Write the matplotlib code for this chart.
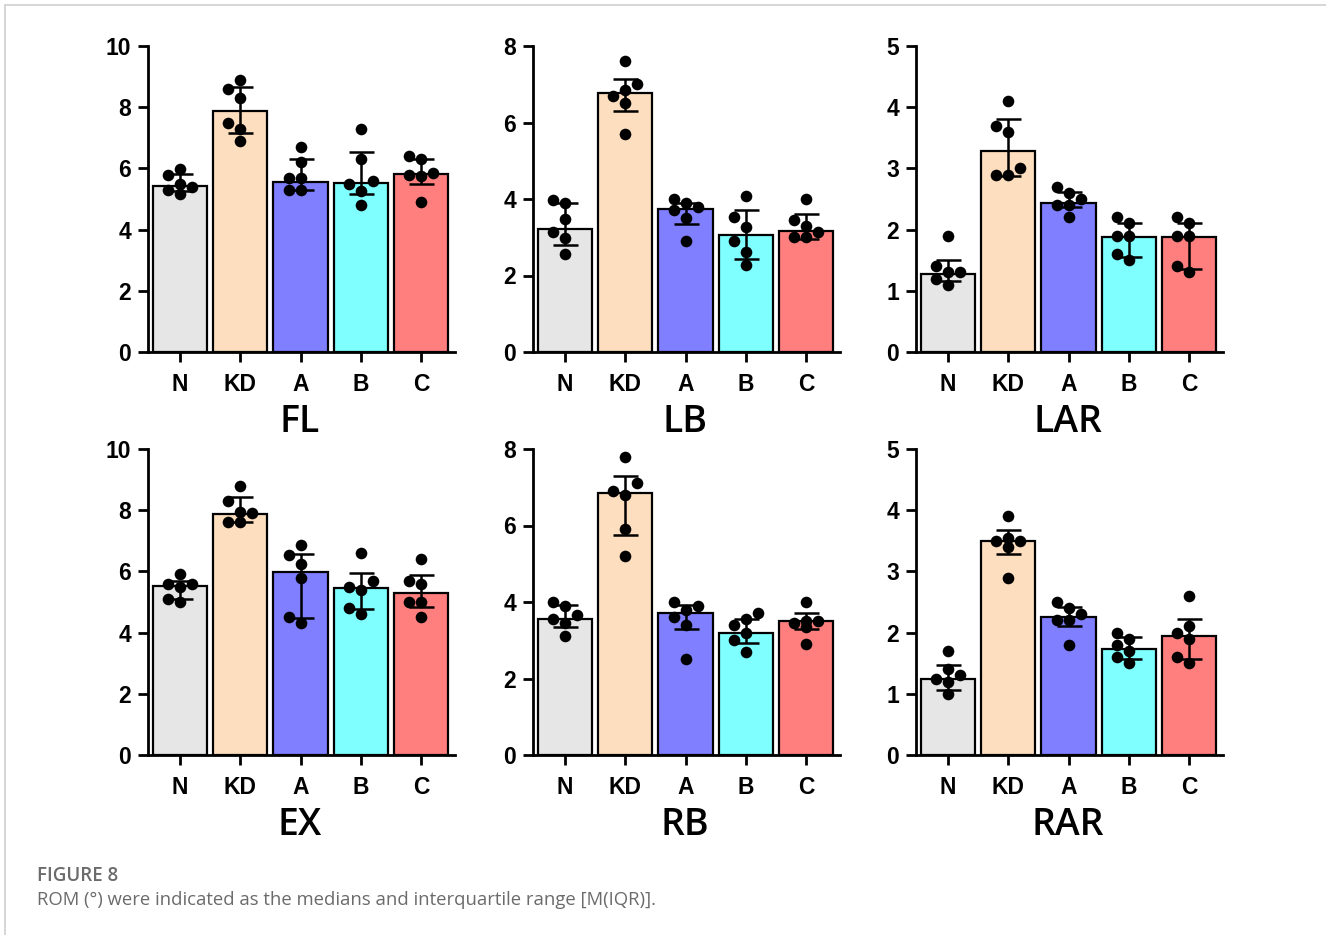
import numpy as np
import matplotlib
matplotlib.use("Agg")
import matplotlib.pyplot as plt
from matplotlib.patches import Rectangle

# Groups and colours
GROUPS = ["N", "KD", "A", "B", "C"]
COLORS = ["#e6e6e6", "#fddfbf", "#7f7fff", "#7fffff", "#ff7f7f"]

# panel name -> y max
PANELS = ["FL", "LB", "LAR", "EX", "RB", "RAR"]
YMAX = {"FL": 10, "LB": 8, "LAR": 5, "EX": 10, "RB": 8, "RAR": 5}

# medians (bar heights)
fl_med = [5.42, 7.87, 5.56, 5.52, 5.81]
lb_med = [3.21, 6.77, 3.75, 3.06, 3.17]
lar_med = [1.28, 3.28, 2.43, 1.88, 1.88]
ex_med = [5.53, 7.88, 5.99, 5.45, 5.29]
rb_med = [3.56, 6.86, 3.70, 3.19, 3.50]
rar_med = [1.24, 3.49, 2.25, 1.74, 1.94]

# interquartile range: lower and upper ends
fl_q1 = [5.25, 7.17, 5.28, 5.15, 5.48]
fl_q3 = [5.83, 8.66, 6.32, 6.54, 6.32]
lb_q1 = [2.81, 6.29, 3.34, 2.42, 2.96]
lb_q3 = [3.90, 7.13, 3.90, 3.70, 3.60]
lar_q1 = [1.16, 2.88, 2.37, 1.55, 1.36]
lar_q3 = [1.51, 3.80, 2.61, 2.11, 2.11]
ex_q1 = [5.09, 7.60, 4.49, 4.76, 4.85]
ex_q3 = [5.70, 8.44, 6.58, 5.94, 5.88]
rb_q1 = [3.34, 5.74, 3.30, 2.93, 3.30]
rb_q3 = [3.92, 7.30, 3.93, 3.56, 3.72]
rar_q1 = [1.07, 3.29, 2.11, 1.57, 1.57]
rar_q3 = [1.47, 3.68, 2.42, 1.92, 2.23]

# individual animals (6 per group)
fl_pts = [[5.17, 5.28, 5.39, 5.50, 5.77, 5.99],
          [6.90, 7.30, 7.50, 8.30, 8.60, 8.90],
          [5.30, 5.30, 5.70, 5.70, 6.20, 6.70],
          [4.80, 5.25, 5.50, 5.60, 6.30, 7.30],
          [4.90, 5.75, 5.80, 5.85, 6.30, 6.40]]
lb_pts = [[2.57, 2.99, 3.14, 3.49, 3.90, 3.98],
          [5.70, 6.50, 6.70, 6.85, 7.00, 7.60],
          [2.90, 3.50, 3.70, 3.80, 3.90, 4.00],
          [2.27, 2.61, 2.89, 3.27, 3.53, 4.07],
          [3.00, 3.00, 3.15, 3.30, 3.45, 4.00]]
lar_pts = [[1.10, 1.20, 1.30, 1.30, 1.40, 1.90],
           [2.90, 2.90, 3.00, 3.60, 3.70, 4.10],
           [2.20, 2.40, 2.40, 2.50, 2.60, 2.70],
           [1.50, 1.60, 1.90, 1.90, 2.10, 2.20],
           [1.30, 1.40, 1.90, 1.90, 2.10, 2.20]]
ex_pts = [[5.00, 5.10, 5.50, 5.60, 5.60, 5.90],
          [7.60, 7.60, 7.90, 7.95, 8.30, 8.80],
          [4.30, 4.50, 5.80, 6.25, 6.55, 6.85],
          [4.60, 4.80, 5.40, 5.50, 5.70, 6.60],
          [4.50, 5.00, 5.00, 5.60, 5.70, 6.40]]
rb_pts = [[3.10, 3.45, 3.55, 3.65, 3.90, 4.00],
          [5.20, 5.90, 6.80, 6.90, 7.10, 7.80],
          [2.50, 3.40, 3.60, 3.80, 3.90, 4.00],
          [2.70, 3.00, 3.20, 3.40, 3.55, 3.70],
          [2.90, 3.35, 3.45, 3.50, 3.50, 4.00]]
rar_pts = [[1.00, 1.20, 1.25, 1.30, 1.40, 1.70],
           [2.90, 3.40, 3.50, 3.50, 3.55, 3.90],
           [1.80, 2.20, 2.20, 2.30, 2.40, 2.50],
           [1.50, 1.60, 1.70, 1.80, 1.90, 2.00],
           [1.50, 1.60, 1.90, 2.00, 2.10, 2.60]]

MED = {"FL": fl_med, "LB": lb_med, "LAR": lar_med, "EX": ex_med, "RB": rb_med, "RAR": rar_med}
Q1 = {"FL": fl_q1, "LB": lb_q1, "LAR": lar_q1, "EX": ex_q1, "RB": rb_q1, "RAR": rar_q1}
Q3 = {"FL": fl_q3, "LB": lb_q3, "LAR": lar_q3, "EX": ex_q3, "RB": rb_q3, "RAR": rar_q3}
PTS = {"FL": fl_pts, "LB": lb_pts, "LAR": lar_pts, "EX": ex_pts, "RB": rb_pts, "RAR": rar_pts}

W, H = 1326, 935
# axes boxes in pixels
LEFTS = [148, 533, 916]
ROW_Y = [(46, 352), (449, 755)]
AX_W = 307
PX_PER_CAT = 60.2


def swarm(values, ymax, height_px):
    """Beeswarm limited to three columns (left / centre / right)."""
    d = 12.0  # column spacing, px
    ppy = height_px / ymax
    placed = []
    offs = []
    for v in values:
        best, best_gap = 0, -1
        for k in [0, -1, 1]:
            x = k * d
            gap = min([np.hypot(x - px, (v - pv) * ppy) for px, pv in placed] or [99])
            if gap >= 11.5:
                best = x
                break
            if gap > best_gap:
                best, best_gap = x, gap
        placed.append((best, v))
        offs.append(best / PX_PER_CAT)
    return offs


fig = plt.figure(figsize=(W / 100, H / 100), dpi=100)
plt.rcParams["font.family"] = ["Liberation Sans", "DejaVu Sans"]

for i, name in enumerate(PANELS):
    row, col = divmod(i, 3)
    top, bot = ROW_Y[row]
    left = LEFTS[col]
    ax = fig.add_axes([left / W, 1 - bot / H, AX_W / W, (bot - top) / H])
    x = np.arange(len(GROUPS))
    med = np.array(MED[name])
    ax.bar(x, med, width=0.9, color=COLORS, edgecolor="black", linewidth=1.6, zorder=2)
    yerr = [med - np.array(Q1[name]), np.array(Q3[name]) - med]
    ax.errorbar(x, med, yerr=yerr, fmt="none", ecolor="black", elinewidth=1.8,
                capsize=9, capthick=1.8, zorder=3)
    for j, vals in enumerate(PTS[name]):
        offs = swarm(vals, YMAX[name], bot - top)
        ax.scatter(j + np.array(offs), vals, s=70, color="black", zorder=4, linewidths=0)

    ax.set_xlim(-0.53, 4.56)
    ax.set_ylim(0, YMAX[name])
    step = 2 if YMAX[name] > 5 else 1
    ax.set_yticks(np.arange(0, YMAX[name] + 0.1, step))
    ax.set_xticks(x)
    ax.set_xticklabels(GROUPS)
    for s in ["top", "right"]:
        ax.spines[s].set_visible(False)
    for s in ["left", "bottom"]:
        ax.spines[s].set_linewidth(2)
    ax.tick_params(width=2, length=7, labelsize=16.5, pad=5)
    ax.tick_params(axis="x", pad=8)
    for lab in ax.get_xticklabels() + ax.get_yticklabels():
        lab.set_fontweight("bold")
    fig.text((left + 152) / W, 1 - (bot + 70) / H, name, ha="center", va="center",
             fontsize=27, family="Open Sans", fontweight="semibold")

# caption
fig.text(37 / W, 1 - 876 / H, "FIGURE 8", fontsize=13.5, color="#6b6b6b",
         family="Open Sans", fontweight="semibold", va="center")
fig.text(37 / W, 1 - 900 / H, "ROM (°) were indicated as the medians and interquartile range [M(IQR)].",
         fontsize=13.3, color="#6b6b6b", family="Open Sans", va="center")

# light frame around the figure panel
fig.patches.append(Rectangle((5 / W, -0.01), 1.02, 1 - 5 / H + 0.01, transform=fig.transFigure,
                             fill=False, edgecolor="#cfcfcf", linewidth=1.2))

fig.savefig("out.png", dpi=100)
